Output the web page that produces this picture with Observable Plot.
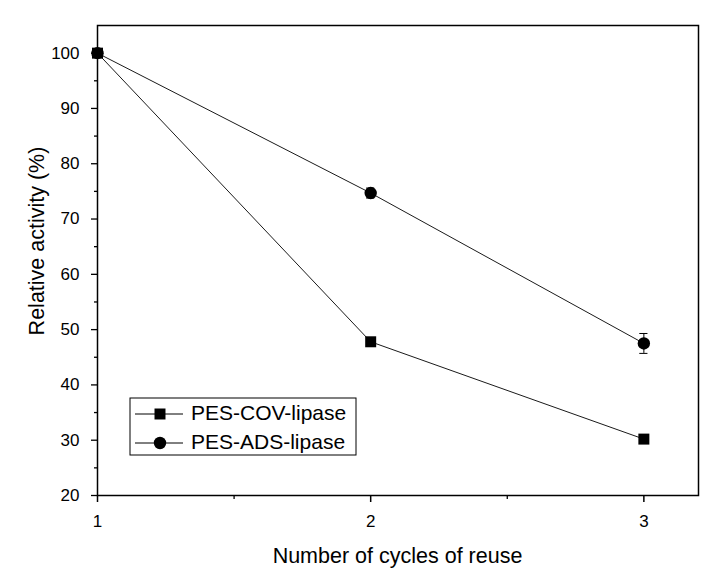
<!DOCTYPE html>
<html><head><meta charset="utf-8">
<script src="https://cdn.jsdelivr.net/npm/d3@7"></script>
<script src="https://cdn.jsdelivr.net/npm/@observablehq/plot@0.6"></script>
<style>body{margin:0;background:#fff}</style>
</head><body><div id="chart"></div>
<script>
const cycles = [1, 2, 3];
const covValues = [100, 47.8, 30.2];
const adsValues = [100, 74.7, 47.5];
const adsErrors = [0, 0.9, 1.8];
const seriesNames = ["PES-COV-lipase", "PES-ADS-lipase"];
const xTicks = [1, 2, 3];
const xMinorTicks = [1.5, 2.5];
const yTicks = [20, 30, 40, 50, 60, 70, 80, 90, 100];
const yMinorTicks = [25, 35, 45, 55, 65, 75, 85, 95];
const xTitle = "Number of cycles of reuse";
const yTitle = "Relative activity (%)";

const data = [
  ...cycles.map((c, i) => ({x: c, y: covValues[i], e: 0, series: seriesNames[0]})),
  ...cycles.map((c, i) => ({x: c, y: adsValues[i], e: adsErrors[i], series: seriesNames[1]}))
];
const errData = data.filter(d => d.e > 0);
const capHalf = 0.015;

const font = "'Liberation Sans', Arial, sans-serif";
const plot = Plot.plot({
  width: 720, height: 580,
  marginLeft: 97, marginRight: 22, marginTop: 25, marginBottom: 85,
  style: {fontFamily: font, fontSize: "17px", color: "black", background: "white"},
  x: {domain: [1, 3.2], axis: null},
  y: {domain: [20, 105], axis: null},
  symbol: {domain: seriesNames, range: ["square", "circle"]},
  marks: [
    Plot.axisY(yTicks, {tickSize: 6, text: null, strokeWidth: 1.3, label: null}),
    Plot.axisY(yMinorTicks, {tickSize: 3, text: null, strokeWidth: 1.3, label: null}),
    Plot.axisX(xTicks, {tickSize: 7, text: null, strokeWidth: 1.5, label: null}),
    Plot.axisX(xMinorTicks, {tickSize: 4, text: null, strokeWidth: 1.3, label: null}),
    Plot.text(yTicks, {y: d => d, frameAnchor: "left", dx: -18, textAnchor: "end", lineAnchor: "middle",
      text: d => String(d), fontSize: 17, fill: "black"}),
    Plot.text(xTicks, {x: d => d, frameAnchor: "bottom", dy: 26, lineAnchor: "middle",
      text: d => String(d), fontSize: 17, fill: "black"}),
    Plot.line(data, {x: "x", y: "y", z: "series", stroke: "black", strokeWidth: 0.9}),
    Plot.ruleX(errData, {x: "x", y1: d => d.y - d.e, y2: d => d.y + d.e, stroke: "black", strokeWidth: 1}),
    Plot.ruleY(errData, {y: d => d.y - d.e, x1: d => d.x - capHalf, x2: d => d.x + capHalf, stroke: "black", strokeWidth: 1}),
    Plot.ruleY(errData, {y: d => d.y + d.e, x1: d => d.x - capHalf, x2: d => d.x + capHalf, stroke: "black", strokeWidth: 1}),
    Plot.dot(data, {x: "x", y: "y", symbol: "series", fill: "black", stroke: "none", r: 6.2}),
    Plot.frame({stroke: "black", strokeWidth: 1.5})
  ]
});
document.getElementById("chart").appendChild(plot);

const svg = d3.select(plot);

svg.append("text").attr("x", 397.5).attr("y", 557).attr("text-anchor", "middle")
  .attr("dominant-baseline", "middle").style("font-size", "21.5px").attr("font-family", font)
  .attr("fill", "black").text(xTitle);
svg.append("text").attr("transform", "translate(38,241) rotate(-90)").attr("text-anchor", "middle")
  .attr("dominant-baseline", "middle").style("font-size", "21.5px").attr("font-family", font)
  .attr("fill", "black").text(yTitle);

// legend
const lg = svg.append("g");
lg.append("rect").attr("x", 130).attr("y", 398).attr("width", 226).attr("height", 57)
  .attr("fill", "white").attr("stroke", "black").attr("stroke-width", 1);
const symbols = [d3.symbolSquare, d3.symbolCircle];
seriesNames.forEach((name, i) => {
  const yy = 414 + i * 29;
  lg.append("line").attr("x1", 135).attr("x2", 183).attr("y1", yy).attr("y2", yy)
    .attr("stroke", "black").attr("stroke-width", 1);
  lg.append("path").attr("transform", `translate(160,${yy})`)
    .attr("d", d3.symbol(symbols[i], Math.PI * 6.2 * 6.2)()).attr("fill", "black");
  lg.append("text").attr("x", 191).attr("y", yy).attr("text-anchor", "start")
    .attr("dominant-baseline", "middle")
    .style("font-size", "21px").attr("font-family", font).attr("fill", "black").text(name);
});
</script>
</body></html>
